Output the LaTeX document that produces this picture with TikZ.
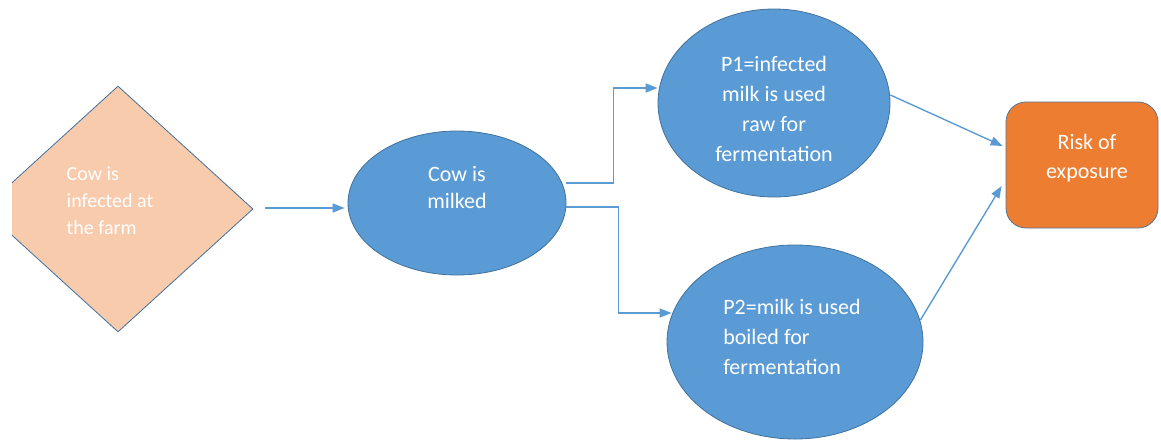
\documentclass[tikz,border=0pt]{standalone}
\usepackage{fontspec}
\setmainfont{Carlito}
\usetikzlibrary{shapes.geometric,arrows.meta}
\definecolor{blueF}{HTML}{5B9BD5}
\definecolor{blueD}{HTML}{41719C}
\definecolor{peach}{HTML}{F8CBAD}
\definecolor{orng}{HTML}{ED7D31}
\tikzset{
  oval/.style={ellipse, fill=blueF, draw=blueD, line width=0.8pt, inner sep=0pt},
  lbl/.style={text=white, inner sep=0pt, font=\fontsize{22}{30}\selectfont},
  arr/.style={draw=blueF, line width=1.4pt, -{Triangle[length=12pt,width=9pt]}},
}
\begin{document}
\begin{tikzpicture}[x=1pt,y=-1pt]
\useasboundingbox (0,0) rectangle (1161,442);
% diamond (left corner cut off by the picture edge)
\begin{scope}
\clip (12,0) rectangle (1161,442);
\node[diamond, fill=peach, draw=blueD, line width=0.8pt, inner sep=0pt,
      minimum width=270pt, minimum height=246pt] (cow) at (118,209) {};
\end{scope}
\node[lbl, align=left, font=\fontsize{20}{27}\selectfont] (cowt) at (110,201)
  {Cow is\\infected at\\the farm};
% ellipses
\node[oval, minimum width=218pt, minimum height=144pt] (milk) at (457,203) {};
\node[lbl, align=center, font=\fontsize{22}{27}\selectfont] (milkt) at ([yshift=15pt]milk.center) {Cow is\\milked};
\node[oval, minimum width=232pt, minimum height=188pt] (p1) at (774,103) {};
\node[lbl, align=center] (p1t) at ([yshift=-5.5pt]p1.center)
  {P1=infected\\milk is used\\raw for\\fermentation};
\node[oval, minimum width=256pt, minimum height=194pt] (p2) at (795,342) {};
\node[lbl, align=left] (p2t) at ([xshift=-3pt,yshift=5pt]p2.center)
  {P2=milk is used\\boiled for\\fermentation};
% risk box
\node[rectangle, rounded corners=20pt, fill=orng, draw=blueD!70!gray, line width=0.8pt,
      minimum width=152pt, minimum height=126pt, inner sep=0pt] (risk) at (1082,165) {};
\node[lbl, align=center, font=\fontsize{22}{29}\selectfont] (riskt) at ([xshift=5pt,yshift=7pt]risk.center)
  {Risk of\\exposure};
% connectors
\draw[arr] ([xshift=12pt,yshift=1pt]cow.east) -- ([xshift=-3pt,yshift=-5pt]milk.west);
\draw[arr] ([yshift=20pt]milk.east) -- ++(47,0) |- ([yshift=15pt]p1.west);
\draw[arr] ([yshift=-4pt]milk.east) -- ++(52,0) |- ([xshift=5pt,yshift=29pt]p2.west);
\draw[arr] ([yshift=8pt]p1.east) -- ([xshift=-3pt,yshift=19pt]risk.west);
\draw[arr] ([xshift=-3pt,yshift=22pt]p2.east) -- ([xshift=-4pt,yshift=-21pt]risk.west);
\end{tikzpicture}
\end{document}
